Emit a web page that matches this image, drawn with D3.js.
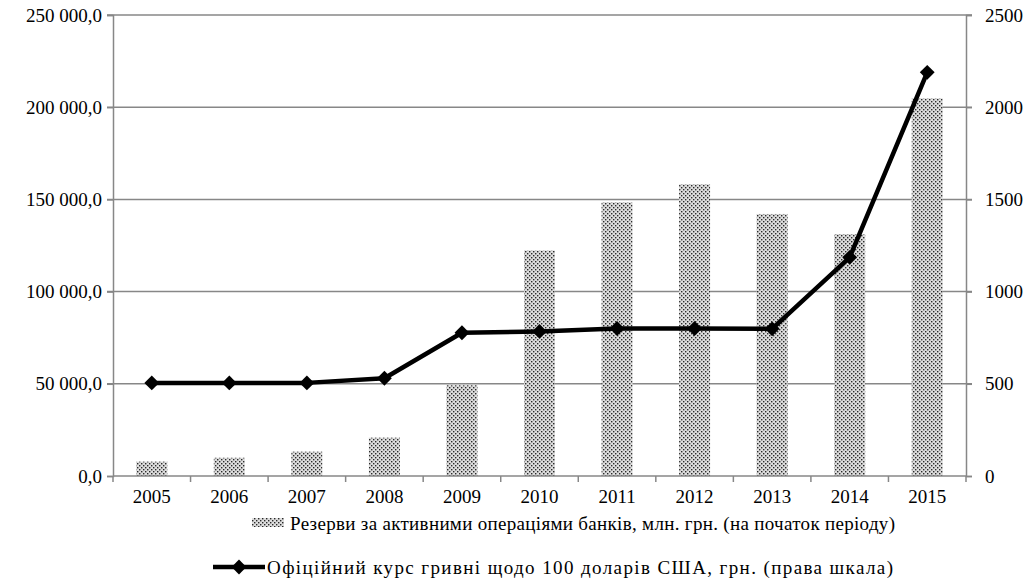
<!DOCTYPE html>
<html>
<head>
<meta charset="utf-8">
<script src="https://cdn.jsdelivr.net/npm/d3@7"></script>
<style>
  body { margin: 0; background: #fff; }
  text { font-family: "Liberation Serif", "DejaVu Serif", serif; fill: #000; }
</style>
</head>
<body>
<div id="chart"></div>
<script>
// ----------- DATA ------------
const years = ['2005', '2006', '2007', '2008', '2009', '2010', '2011', '2012', '2013', '2014', '2015'];
const reserves = [7800, 9900, 13200, 20800, 49200, 122300, 148400, 158200, 142100, 131200, 204800];
const rate = [505, 505, 505, 530, 777, 784, 800, 800, 798, 1186, 2189];
const leftTicks = [0, 50000, 100000, 150000, 200000, 250000];
const rightTicks = [0, 500, 1000, 1500, 2000, 2500];
const legendBars = 'Резерви за активними операціями банків, млн. грн. (на початок періоду)';
const legendLine = 'Офіційний курс гривні щодо 100 доларів США, грн. (права шкала)';

const margin = { top: 15, right: 64, bottom: 104, left: 113 };
const width = 1030, height = 580;
const contentWidth = width - margin.left - margin.right;
const contentHeight = height - margin.top - margin.bottom;
const serif = '"Liberation Serif", "DejaVu Serif", serif';

const svg = d3.select('#chart').append('svg')
  .attr('width', width).attr('height', height);

// dotted fill like the original
const defs = svg.append('defs');
const pat = defs.append('pattern')
  .attr('id', 'dots').attr('patternUnits', 'userSpaceOnUse')
  .attr('width', 4).attr('height', 4);
pat.append('rect').attr('width', 4).attr('height', 4).attr('fill', '#dcdcdc');
pat.append('rect').attr('x', 0).attr('y', 0).attr('width', 1.4).attr('height', 1.4).attr('fill', '#2a2a2a');
pat.append('rect').attr('x', 2).attr('y', 2).attr('width', 1.4).attr('height', 1.4).attr('fill', '#2a2a2a');

const g = svg.append('g').attr('transform', `translate(${margin.left},${margin.top})`);

const xc = d3.scaleBand().domain(years).range([0, contentWidth]);
const y = d3.scaleLinear().domain([0, 250000]).range([contentHeight, 0]);
const y2 = d3.scaleLinear().domain([0, 2500]).range([contentHeight, 0]);

const grey = '#878787';
const fmt = v => d3.format(',.1f')(v).replace(/,/g, ' ').replace('.', ',');

// ----------- GRID ------------
g.append('g').selectAll('line').data(leftTicks.slice(1)).join('line')
  .attr('x1', -6).attr('x2', contentWidth + 6)
  .attr('y1', d => y(d)).attr('y2', d => y(d))
  .attr('stroke', grey).attr('stroke-width', 1.5);

// ----------- BARS ------------
g.append('g').selectAll('rect').data(reserves).join('rect')
  .attr('x', (d, i) => xc(years[i]) + (xc.bandwidth() - 31) / 2)
  .attr('width', 31)
  .attr('y', d => y(d))
  .attr('height', d => contentHeight - y(d))
  .attr('fill', 'url(#dots)');

// ----------- AXES ------------
const axL = g.append('g')
  .call(d3.axisLeft(y).tickValues(leftTicks).tickFormat(fmt).tickSize(6).tickPadding(5));
const axR = g.append('g').attr('transform', `translate(${contentWidth},0)`)
  .call(d3.axisRight(y2).tickValues(rightTicks).tickFormat(d3.format('d')).tickSize(6).tickPadding(13));
const axB = g.append('g').attr('transform', `translate(0,${contentHeight})`)
  .call(d3.axisBottom(xc).tickSize(0).tickPadding(14));

// category boundary ticks
g.append('g').selectAll('line').data(d3.range(years.length + 1)).join('line')
  .attr('x1', i => i * xc.step()).attr('x2', i => i * xc.step())
  .attr('y1', contentHeight).attr('y2', contentHeight + 6)
  .attr('stroke', grey).attr('stroke-width', 1.5);

[axL, axR, axB].forEach(a => {
  a.attr('font-family', serif).attr('font-size', 19);
  a.selectAll('path.domain').attr('stroke', grey).attr('stroke-width', 1.5);
  a.selectAll('.tick line').attr('stroke', grey).attr('stroke-width', 1.5);
  a.selectAll('text').attr('fill', '#000');
});
axB.select('path.domain').remove();
g.append('line').attr('x1', 0).attr('x2', contentWidth)
  .attr('y1', contentHeight).attr('y2', contentHeight)
  .attr('stroke', grey).attr('stroke-width', 1.5);

// ----------- LINE ------------
const line = d3.line()
  .x((d, i) => xc(years[i]) + xc.bandwidth() / 2)
  .y(d => y2(d));

g.append('path').datum(rate)
  .attr('d', line).attr('fill', 'none')
  .attr('stroke', '#000').attr('stroke-width', 4.5).attr('stroke-linejoin', 'round');

const diamond = d3.symbol().type(d3.symbolSquare).size(110);
g.append('g').selectAll('path').data(rate).join('path')
  .attr('d', diamond)
  .attr('transform', (d, i) => `translate(${xc(years[i]) + xc.bandwidth() / 2},${y2(d)}) rotate(45)`)
  .attr('fill', '#000');

// ----------- LEGEND ------------
const leg = svg.append('g').attr('font-family', serif).attr('font-size', 19);
leg.append('rect').attr('x', 252).attr('y', 518).attr('width', 32).attr('height', 9).attr('fill', 'url(#dots)');
leg.append('text').attr('x', 290).attr('y', 530)
  .attr('textLength', 605).attr('lengthAdjust', 'spacing').text(legendBars);

leg.append('line').attr('x1', 213).attr('x2', 265).attr('y1', 567).attr('y2', 567)
  .attr('stroke', '#000').attr('stroke-width', 4.5);
leg.append('path').attr('d', diamond).attr('transform', 'translate(239,567) rotate(45)').attr('fill', '#000');
leg.append('text').attr('x', 267).attr('y', 574)
  .attr('textLength', 626).attr('lengthAdjust', 'spacing').text(legendLine);
</script>
</body>
</html>
